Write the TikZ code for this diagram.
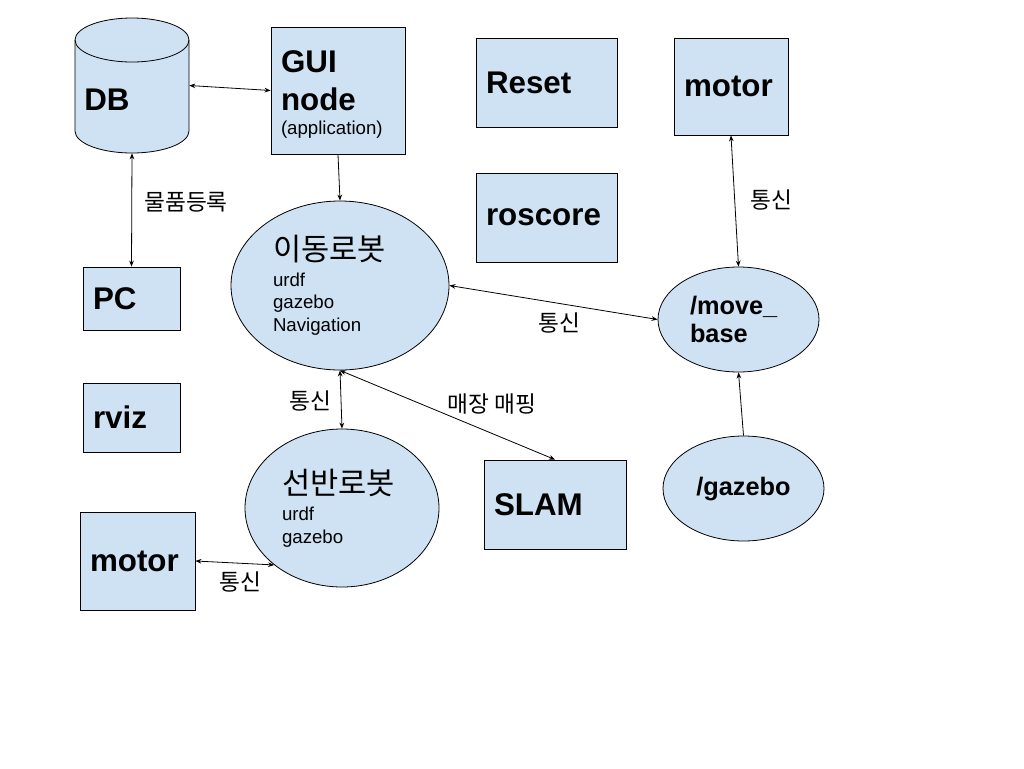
\documentclass[tikz,border=0pt]{standalone}
\usepackage{fontspec}
\setmainfont{Liberation Sans}
\newfontfamily\kr{Noto Sans CJK KR}
\usetikzlibrary{arrows.meta,shapes.geometric}
\definecolor{boxblue}{HTML}{CFE2F3}

\tikzset{
  box/.style={draw, fill=boxblue, line width=0.6pt, rectangle, inner xsep=7.5pt,
    inner ysep=0pt, align=left, font=\bfseries\fontsize{23.5}{28.5}\selectfont},
  blob/.style={draw, fill=boxblue, line width=0.6pt, ellipse, inner sep=0pt, align=left},
  lbl/.style={font=\kr\fontsize{17}{20}\selectfont, inner sep=0pt},
  link/.style={line width=0.6pt, >={Stealth[length=4.5pt,width=3.5pt]}},
}

\begin{document}
\begin{tikzpicture}[x=0.75pt,y=-0.75pt]
  \useasboundingbox (0,0) rectangle (1024,768);

  % database drum
  \node[minimum width=85.5pt, minimum height=101.25pt, inner sep=0pt] (db) at (132,85.5) {};
  \filldraw[fill=boxblue, line width=0.6pt] (75,40) -- (75,131) arc (180:360:42.75pt and 16.5pt)
    -- (189,40) arc (0:180:42.75pt and 16.5pt) -- cycle;
  \draw[line width=0.6pt] (75,40) arc (180:360:42.75pt and 16.5pt);
  \node[anchor=west, inner sep=0pt, font=\bfseries\fontsize{23.5}{28.5}\selectfont] (dbtext) at (84,100) {DB};

  % boxes
  \node[box, minimum width=100.5pt, text width=85.5pt, minimum height=95.25pt] (gui) at (338,90.5)
    {\rule{0pt}{23pt}GUI\\node\\[-10.5pt]{\mdseries\fontsize{14}{17}\selectfont (application)}};
  \node[box, minimum width=105.75pt, text width=90.75pt, minimum height=66.75pt] (reset) at (546.5,82.5) {Reset};
  \node[box, minimum width=105.75pt, text width=90.75pt, minimum height=66.75pt] (roscore) at (546.5,217.5) {roscore};
  \node[box, minimum width=85.5pt, text width=70.5pt, minimum height=72.75pt] (motora) at (731,86.5) {motor};
  \node[box, minimum width=72.75pt, text width=57.75pt, minimum height=47.25pt] (pc) at (131.5,298.5) {PC};
  \node[box, minimum width=72.75pt, text width=57.75pt, minimum height=51.75pt] (rviz) at (131.5,417.5) {rviz};
  \node[box, minimum width=106.5pt, text width=91.5pt, minimum height=66.75pt] (slam) at (555,504.5) {SLAM};
  \node[box, minimum width=86.25pt, text width=71.25pt, minimum height=73.5pt] (motorb) at (137.5,561) {motor};

  % robots and topics
  \node[blob, minimum width=163.5pt, minimum height=126.75pt, text width=100.5pt,
    font=\fontsize{14}{17}\selectfont] (mover) at (340,285.5)
    {{\kr\fontsize{23}{26}\selectfont 이동로봇}\\[2pt]urdf\\gazebo\\Navigation};
  \node[blob, minimum width=145.5pt, minimum height=118.5pt, text width=90pt,
    font=\fontsize{14}{17}\selectfont] (shelf) at (342,508)
    {{\kr\fontsize{23}{26}\selectfont 선반로봇}\\[2.5pt]urdf\\gazebo};
  \node[blob, minimum width=120.75pt, minimum height=78.75pt, text width=72.75pt,
    font=\bfseries\fontsize{19}{21}\selectfont] (movebase) at (738.5,319.5) {/move\_\\base};
  \node[blob, minimum width=120.75pt, minimum height=78.75pt, align=center,
    font=\bfseries\fontsize{19}{21}\selectfont] (gazebo) at (743.5,488.5) {/gazebo};

  % links
  \draw[link, <->] (db.east) -- (gui.west);
  \draw[link, <->] (db.south) -- (pc.north);
  \draw[link, ->] (gui.south) -- (mover.north);
  \draw[link, <->] (mover.east) -- (movebase.west);
  \draw[link, <->] (mover.south) -- (shelf.north);
  \draw[link, <->] (mover.south) -- (slam.north);
  \draw[link, <->] (motora.south) -- (movebase.north);
  \draw[link, ->] (gazebo.north) -- (movebase.south);
  \draw[link, <->] (motorb.east) -- (shelf.220);

  % labels
  \node[lbl] (regl) at (186,202) {물품등록};
  \node[lbl] (comma) at (559,323) {통신};
  \node[lbl] (commb) at (310,401) {통신};
  \node[lbl] (mapl) at (492,404) {매장 매핑};
  \node[lbl] (commc) at (771,200) {통신};
  \node[lbl] (commd) at (240,582) {통신};
\end{tikzpicture}
\end{document}
